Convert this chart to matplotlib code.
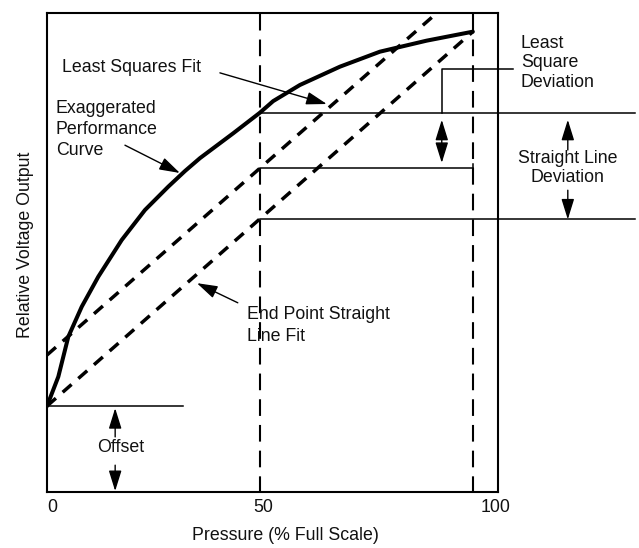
import matplotlib
matplotlib.use("Agg")
import matplotlib.pyplot as plt

plt.rcParams['font.family'] = ['Liberation Sans', 'DejaVu Sans']
plt.rcParams['lines.scale_dashes'] = False

# Pressure (% full scale) vs relative output of the exaggerated performance curve
curve_x = [0, 2.65, 5.0, 8.15, 12.04, 17.54, 23.0, 28.47, 32.39, 35.92,
           43.73, 50.0, 53.1, 59.39, 68.78, 78.17, 89.13, 100.0]
curve_y = [17.95, 24.07, 32.42, 38.68, 44.95, 52.61, 58.87, 63.74, 67.0, 69.7,
           74.89, 79.19, 81.6, 84.97, 88.79, 91.92, 94.22, 96.10]

# End point straight line (first to last point of the curve)
endpoint_x = [0, 100]
endpoint_y = [17.95, 96.10]

# Least squares fit line
ls_intercept = 28.6
ls_slope = 0.78

# Reference pressures
mid_p = 50
full_p = 100

tick_values = [0, 50, 100]
tick_labels = ["0", "50", "100"]

TXT = dict(fontsize=12.8, color="#111111")

fig = plt.figure(figsize=(6.39, 5.48), dpi=100)
ax = fig.add_axes([0.0736, 0.1022, 0.7057, 0.8741])
ax.set_xlim(0, 105.9)
ax.set_ylim(0, 100)
ax.set_xticks([])
ax.set_yticks([])
for s in ax.spines.values():
    s.set_linewidth(1.5)

# performance curve
ax.plot(curve_x, curve_y, color="black", lw=2.9, solid_capstyle="round",
        solid_joinstyle="round", zorder=4)

# end point straight line
ax.plot(endpoint_x, endpoint_y, color="black", lw=2.5, dashes=(8.5, 6.5),
        dash_capstyle="butt", zorder=3)

# least squares fit line
ls_x = [0, 105.9]
ls_y = [ls_intercept + ls_slope * v for v in ls_x]
ax.plot(ls_x, ls_y, color="black", lw=2.5, dashes=(8.5, 6.5),
        dash_capstyle="butt", zorder=3)

# vertical reference lines at 50 % and 100 %
for p in (mid_p, full_p):
    ax.plot([p, p], [-0.3, 100], color="black", lw=1.5, dashes=(12, 6.5),
            dash_capstyle="butt", clip_on=False, zorder=2)

# deviation levels at 50 % pressure
y_curve50 = curve_y[curve_x.index(mid_p)]
y_ls50 = ls_intercept + ls_slope * mid_p
y_end50 = endpoint_y[0] + (endpoint_y[1] - endpoint_y[0]) * mid_p / 100
ax.plot([mid_p, 138], [y_curve50, y_curve50], color="black", lw=1.1, clip_on=False)
ax.plot([mid_p, full_p], [y_ls50, y_ls50], color="black", lw=1.1)
ax.plot([full_p, full_p], [y_ls50 - 0.9, y_ls50 + 0.9], color="black", lw=1.1)
ax.plot([mid_p, 138], [y_end50, y_end50], color="black", lw=1.1, clip_on=False)

# offset level
ax.plot([0, 31.9], [endpoint_y[0], endpoint_y[0]], color="black", lw=1.1)

arrow = dict(arrowstyle="-|>,head_length=0.9,head_width=0.28", color="black",
             lw=1.0, mutation_scale=14, shrinkA=0, shrinkB=0)
arrow2 = dict(arrowstyle="<|-|>,head_length=0.9,head_width=0.28", color="black",
              lw=1.0, mutation_scale=14, shrinkA=0, shrinkB=0)

# least square deviation bracket
ax.plot([92.7, 92.7, 109.4], [y_curve50, 88.3, 88.3], color="black", lw=1.1,
        clip_on=False)
ax.annotate("", xy=(92.7, 77.7), xytext=(92.7, 68.7), arrowprops=arrow2)
ax.text(111.3, 89.6, "Least\nSquare\nDeviation", ha="left", va="center",
        linespacing=1.17, **TXT)

# straight line deviation
ax.annotate("", xy=(122.3, 77.7), xytext=(122.3, 71.4), arrowprops=arrow,
            annotation_clip=False)
ax.annotate("", xy=(122.3, 56.9), xytext=(122.3, 63.0), arrowprops=arrow,
            annotation_clip=False)
ax.text(122.3, 67.6, "Straight Line\nDeviation", ha="center", va="center",
        linespacing=1.12, **TXT)

# callouts
ax.text(3.5, 88.7, "Least Squares Fit", ha="left", va="center", **TXT)
ax.annotate("", xy=(65.7, 81.0), xytext=(40.6, 87.5), arrowprops=arrow)

ax.text(2.1, 75.6, "Exaggerated\nPerformance\nCurve", ha="left", va="center",
        linespacing=1.3, **TXT)
ax.annotate("", xy=(31.2, 66.6), xytext=(18.3, 72.4), arrowprops=arrow)

ax.text(46.9, 34.7, "End Point Straight\nLine Fit", ha="left", va="center",
        linespacing=1.4, **TXT)
ax.annotate("", xy=(35.2, 43.6), xytext=(44.8, 39.5), arrowprops=arrow)

ax.text(17.4, 9.2, "Offset", ha="center", va="center", **TXT)
ax.annotate("", xy=(16.0, 17.5), xytext=(16.0, 11.5), arrowprops=arrow)
ax.annotate("", xy=(16.0, 0.2), xytext=(16.0, 5.6), arrowprops=arrow)

# tick labels and axis titles
tick_pos = [1.2, 50.7, 105.4]
for v, lab, xp in zip(tick_values, tick_labels, tick_pos):
    ax.text(xp, -3.3, lab, ha="center", va="center", clip_on=False, **TXT)
ax.text(55.9, -9.0, "Pressure (% Full Scale)", ha="center", va="center",
        clip_on=False, **TXT)
ax.text(-5.0, 51.6, "Relative Voltage Output", ha="center", va="center",
        rotation=90, clip_on=False, **TXT)

fig.savefig("out.png", dpi=100)
